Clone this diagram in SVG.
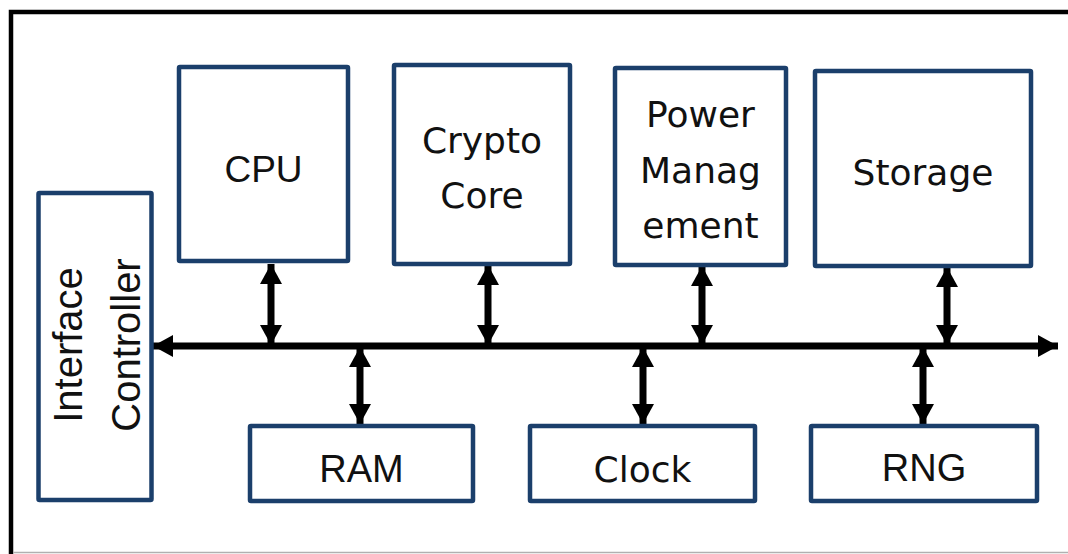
<svg xmlns="http://www.w3.org/2000/svg" width="1068" height="554" viewBox="0 0 1068 554">
<style>
.box{fill:#fff;stroke:#1b3f6b;stroke-width:4.5}
.t1{font-family:"Liberation Sans",Arial,sans-serif;fill:#111;text-anchor:middle}
.t2{font-family:"DejaVu Sans",Verdana,sans-serif;font-size:36px;fill:#111;text-anchor:middle}
.ln{stroke:#000;stroke-width:7;fill:none}
</style>
<defs>
<marker id="ah" viewBox="0 0 20 22" refX="20" refY="11" markerWidth="20" markerHeight="22" markerUnits="userSpaceOnUse" orient="auto-start-reverse">
<path d="M0,0 L20,11 L0,22 Z" fill="#000"/>
</marker>
</defs>
<rect width="1068" height="554" fill="#fff"/>
<g id="frame">
<path d="M11,554 V12 H1068" fill="none" stroke="#000" stroke-width="4.5"/>
<line x1="13" y1="552.5" x2="1068" y2="552.5" stroke="#b0b0b0" stroke-width="1.5"/>
</g>
<g id="connectors">
<line class="ln" x1="153" y1="346" x2="1058" y2="346" marker-start="url(#ah)" marker-end="url(#ah)"/>
<line class="ln" x1="271" y1="264" x2="271" y2="345" marker-start="url(#ah)" marker-end="url(#ah)"/>
<line class="ln" x1="488" y1="265" x2="488" y2="345" marker-start="url(#ah)" marker-end="url(#ah)"/>
<line class="ln" x1="702" y1="266" x2="702" y2="345" marker-start="url(#ah)" marker-end="url(#ah)"/>
<line class="ln" x1="947" y1="267" x2="947" y2="345" marker-start="url(#ah)" marker-end="url(#ah)"/>
<line class="ln" x1="360" y1="347" x2="360" y2="424" marker-start="url(#ah)" marker-end="url(#ah)"/>
<line class="ln" x1="643" y1="347" x2="643" y2="424" marker-start="url(#ah)" marker-end="url(#ah)"/>
<line class="ln" x1="923" y1="347" x2="923" y2="424" marker-start="url(#ah)" marker-end="url(#ah)"/>
</g>
<g id="interface">
<rect class="box" x="38.5" y="193" width="113" height="307" rx="1"/>
<text class="t1" font-size="40" transform="translate(82,345) rotate(-90)">Interface</text>
<text class="t1" font-size="40" transform="translate(140,345) rotate(-90)">Controller</text>
</g>
<g id="cpu">
<rect class="box" x="179" y="67" width="169" height="194" rx="1"/>
<text class="t1" font-size="37" x="263.5" y="182">CPU</text>
</g>
<g id="crypto">
<rect class="box" x="394" y="65" width="176" height="199" rx="1"/>
<text class="t2" x="482" y="153">Crypto</text>
<text class="t2" x="482" y="208">Core</text>
</g>
<g id="power">
<rect class="box" x="615" y="68" width="171" height="197" rx="1"/>
<text class="t2" x="700.5" y="127">Power</text>
<text class="t2" x="700.5" y="183">Manag</text>
<text class="t2" x="700.5" y="238">ement</text>
</g>
<g id="storage">
<rect class="box" x="815" y="71" width="216" height="195" rx="1"/>
<text class="t2" x="923" y="185">Storage</text>
</g>
<g id="ram">
<rect class="box" x="250" y="426" width="223" height="75" rx="1"/>
<text class="t1" font-size="38" x="361.5" y="482">RAM</text>
</g>
<g id="clock">
<rect class="box" x="530" y="426" width="225" height="75" rx="1"/>
<text class="t2" x="642.5" y="482">Clock</text>
</g>
<g id="rng">
<rect class="box" x="811" y="426" width="226" height="75" rx="1"/>
<text class="t1" font-size="38" x="924" y="481">RNG</text>
</g>
</svg>
